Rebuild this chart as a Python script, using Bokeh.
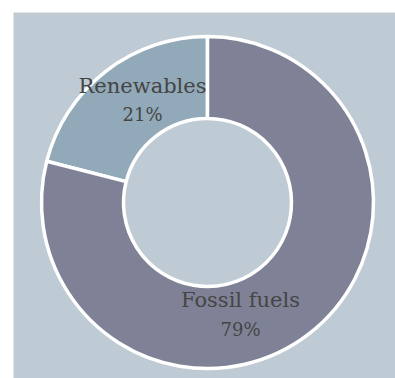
import math
from bokeh.plotting import figure
from bokeh.models import Range1d, ColumnDataSource
from bokeh.core.properties import value
from bokeh.embed import file_html
from bokeh.resources import INLINE

# data
categories = ["Renewables", "Fossil fuels"]
shares = [21, 79]
colors = ["#91a9b8", "#7f8296"]

# wedge angles (counter-clockwise from 12 o'clock)
total = sum(shares)
starts, ends = [], []
acc = math.pi / 2
for s in shares:
    starts.append(acc)
    acc += s / total * 2 * math.pi
    ends.append(acc)

src = ColumnDataSource(dict(cat=categories, share=shares, color=colors,
                            start=starts, end=ends))

# label layout (pixel-unit data space, donut centre at 0,0)
label_x = [-65, 33]
label_y = [117, -97]
pct_y = [88, -127]

p = figure(width=395, height=378, output_backend="svg", toolbar_location=None,
           x_range=Range1d(-194, 188), y_range=Range1d(-176, 190),
           min_border_left=13, min_border_top=12, min_border_right=0, min_border_bottom=0)
p.axis.visible = False
p.grid.visible = False
p.outline_line_color = None
p.background_fill_color = "#bfcbd4"
p.border_fill_color = "white"

p.annular_wedge(x=0, y=0, inner_radius=84, outer_radius=166,
                start_angle="start", end_angle="end", color="color",
                line_color="white", line_width=3.5, source=src)

lsrc = ColumnDataSource(dict(x=label_x, y=label_y, yp=pct_y, cat=categories,
                             pct=[f"{s}%" for s in shares]))
p.text(x="x", y="y", text="cat", source=lsrc, text_align="center",
       text_baseline="alphabetic", text_font=value("DejaVu Serif"),
       text_font_size="21px", text_color="#454545")
p.text(x="x", y="yp", text="pct", source=lsrc, text_align="center",
       text_baseline="alphabetic", text_font=value("DejaVu Serif"),
       text_font_size="18px", text_color="#454545")

open("out.html", "w").write(file_html(p, INLINE))
